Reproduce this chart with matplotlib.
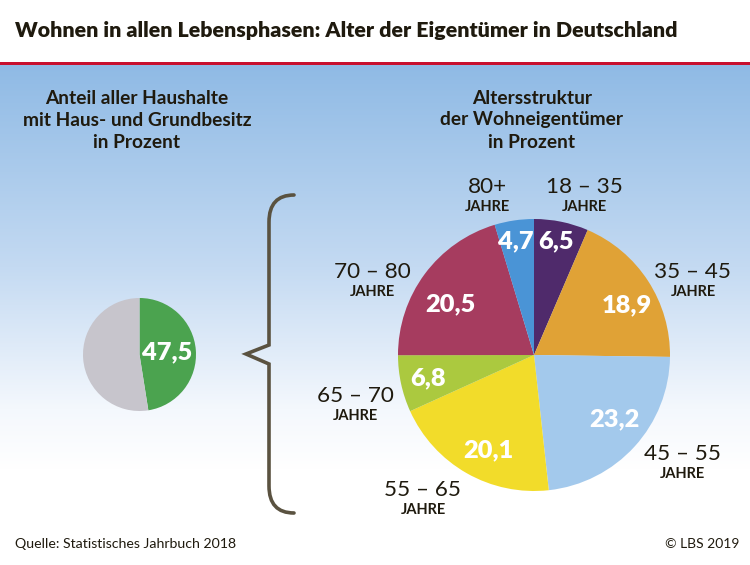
import numpy as np
import matplotlib
matplotlib.use("Agg")
import matplotlib.pyplot as plt
from matplotlib.colors import LinearSegmentedColormap
from matplotlib.patches import PathPatch, Rectangle
from matplotlib.path import Path

plt.rcParams['font.family'] = ['Lato', 'DejaVu Sans']

# Data
age_groups = ["18 – 35", "35 – 45", "45 – 55", "55 – 65", "65 – 70", "70 – 80", "80+"]
age_shares = [6.5, 18.9, 23.2, 20.1, 6.8, 20.5, 4.7]
owner_shares = [47.5, 52.5]

age_colors = ["#4f2a6b", "#e0a236", "#a3c9ec", "#f2dc2a", "#abc93f", "#a63c5f", "#4a94d6"]
owner_colors = ["#4ba34f", "#c7c5cc"]
value_pos = [(556, 241), (627, 305), (614, 419), (488, 450), (428, 378), (450, 304), (516, 241)]
label_pos = [(584, 187), (693, 272), (682, 454), (423, 490), (355, 396), (372, 272), (487, 187)]

DARK = "#1f1a0e"
W, H = 750, 565


def fmt(v):
    return f"{v:.1f}".replace(".", ",")


def py(y):
    # y measured from the top of the picture
    return H - y


fig = plt.figure(figsize=(W / 100, H / 100), dpi=100)
ax = fig.add_axes([0, 0, 1, 1])

# Background gradient
cmap = LinearSegmentedColormap.from_list("sky", [(0, "#8fbae5"), (0.5, "#c4daf2"), (0.85, "#f4f8fd"), (1, "#ffffff")])
grad = np.linspace(0, 1, 256).reshape(-1, 1)
ax.imshow(grad, extent=(0, W, py(470), py(64)), cmap=cmap, aspect="auto", zorder=0)
ax.add_patch(Rectangle((0, py(65)), W, 3, color="#c8102e", lw=0, zorder=2))

# Pies
ax.pie(age_shares, colors=age_colors, startangle=90, counterclock=False,
       center=(534, py(355)), radius=136, frame=True,
       wedgeprops={"linewidth": 0, "zorder": 3})
for v, (x, y) in zip(age_shares, value_pos):
    ax.text(x, py(y), fmt(v), color="white", fontsize=18.3, fontweight="heavy",
            ha="center", va="center", zorder=4)

ax.pie(owner_shares, colors=owner_colors, startangle=90, counterclock=False,
       center=(139.5, py(354.5)), radius=56.5, frame=True,
       wedgeprops={"linewidth": 0, "zorder": 3})
ax.text(167, py(352), fmt(owner_shares[0]), color="white", fontsize=18.3, fontweight="heavy",
        ha="center", va="center", zorder=4)

# Age labels
for name, (x, y) in zip(age_groups, label_pos):
    ax.text(x, py(y), name, color=DARK, fontsize=16.2, fontweight="normal", ha="center", va="center", zorder=4)
    ax.text(x, py(y + 20), "JAHRE", color=DARK, fontsize=10.5, fontweight="bold", ha="center", va="center", zorder=4)

# Brace
verts = [(294, 195), (269, 195), (269, 222), (269, 345), (246, 354), (269, 364),
         (269, 486), (269, 513), (294, 513)]
codes = [Path.MOVETO, Path.CURVE3, Path.CURVE3, Path.LINETO, Path.LINETO, Path.LINETO,
         Path.LINETO, Path.CURVE3, Path.CURVE3]
ax.add_patch(PathPatch(Path([(x, py(y)) for x, y in verts], codes), fill=False,
                       edgecolor="#5a5240", lw=2.6, joinstyle="miter", capstyle="round", zorder=3))

# Titles
ax.text(15, py(31), "Wohnen in allen Lebensphasen: Alter der Eigentümer in Deutschland",
        color=DARK, fontsize=15.4, fontweight="heavy", ha="left", va="center", zorder=4)
for i, line in enumerate(["Anteil aller Haushalte", "mit Haus- und Grundbesitz", "in Prozent"]):
    ax.text(137, py(98 + 22 * i), line, color=DARK, fontsize=13.8, fontweight="bold",
            ha="center", va="center", zorder=4)
for i, line in enumerate(["Altersstruktur", "der Wohneigentümer", "in Prozent"]):
    ax.text(532, py(98 + 22 * i), line, color=DARK, fontsize=13.8, fontweight="bold",
            ha="center", va="center", zorder=4)

# Footer
ax.text(15, py(544), "Quelle: Statistisches Jahrbuch 2018", color=DARK, fontsize=10.2, ha="left", va="center", zorder=4)
ax.text(739, py(544), "© LBS 2019", color=DARK, fontsize=10, ha="right", va="center", zorder=4)

ax.set_xlim(0, W)
ax.set_ylim(0, H)
ax.set_aspect("auto")
ax.axis("off")

fig.savefig("out.png", dpi=100, facecolor="white")
